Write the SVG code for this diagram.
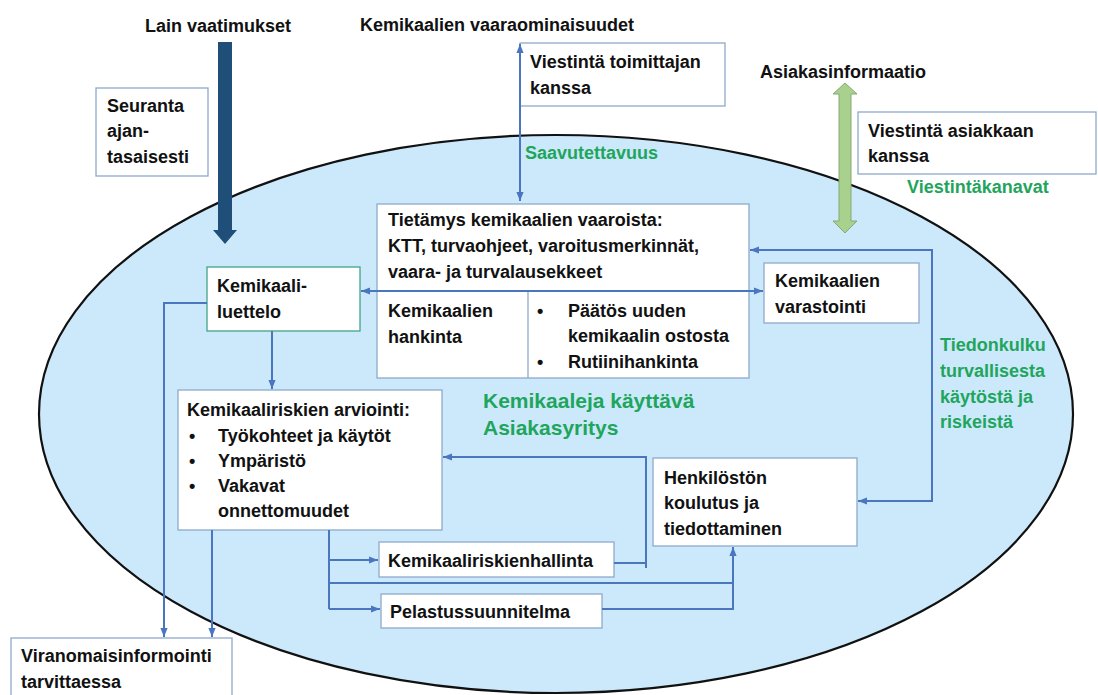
<svg xmlns="http://www.w3.org/2000/svg" width="1098" height="695" viewBox="0 0 1098 695">
  <style>
    .t { font-family: "Liberation Sans", Arial, sans-serif; font-weight: bold; font-size: 18px; fill: #111; }
    .g { font-family: "Liberation Sans", Arial, sans-serif; font-weight: bold; font-size: 18px; fill: #1fa55c; }
    .big { font-size: 21px; }
    .box { fill: #ffffff; stroke: #8eaacb; stroke-width: 1.3; }
    .boxg { fill: #ffffff; stroke: #3fa585; stroke-width: 1.3; }
    .con { fill: none; stroke: #4a76c0; stroke-width: 2; }
  </style>
  <defs>
    <marker id="ah" viewBox="0 0 10 10" refX="10" refY="5" markerWidth="9" markerHeight="9" markerUnits="userSpaceOnUse" orient="auto-start-reverse">
      <path d="M0,1 L10,5 L0,9 z" fill="#4a76c0"/>
    </marker>
  </defs>

  <rect width="1098" height="695" fill="#ffffff"/>

  <!-- company boundary -->
  <ellipse id="company" cx="556" cy="414" rx="517" ry="279" fill="#cce9fb" stroke="#111" stroke-width="2.2"/>

  <!-- headings outside the company -->
  <g id="lain-vaatimukset">
    <text class="t" x="145" y="32">Lain vaatimukset</text>
    <path d="M218,42 H232 V230 H237 L225,244 L213,230 H218 Z" fill="#1f4e79"/>
  </g>
  <g id="vaaraominaisuudet">
    <text class="t" x="360" y="31">Kemikaalien vaaraominaisuudet</text>
  </g>
  <g id="asiakasinformaatio">
    <text class="t" x="760" y="78">Asiakasinformaatio</text>
    <path d="M845,83 L857,94 H851 V221 H857 L845,233 L833,221 H839 V94 H833 Z" fill="#a9d18e" stroke="#86a874" stroke-width="1"/>
  </g>

  <g id="seuranta">
    <rect class="box" x="96" y="88" width="112" height="88"/>
    <text class="t" x="107" y="112">Seuranta</text>
    <text class="t" x="107" y="137">ajan-</text>
    <text class="t" x="107" y="163">tasaisesti</text>
  </g>

  <g id="viestinta-toimittaja">
    <rect class="box" x="520" y="43" width="205" height="63"/>
    <text class="t" x="530" y="68">Viestintä toimittajan</text>
    <text class="t" x="530" y="94">kanssa</text>
  </g>

  <g id="viestinta-asiakas">
    <rect class="box" x="858" y="112" width="238" height="62"/>
    <text class="t" x="868" y="137">Viestintä asiakkaan</text>
    <text class="t" x="868" y="162">kanssa</text>
  </g>

  <!-- green labels -->
  <text class="g" x="525" y="159">Saavutettavuus</text>
  <text class="g" x="907" y="193">Viestintäkanavat</text>
  <g id="tiedonkulku-label">
    <text class="g" x="940" y="351">Tiedonkulku</text>
    <text class="g" x="940" y="377">turvallisesta</text>
    <text class="g" x="940" y="403">käytöstä ja</text>
    <text class="g" x="940" y="428">riskeistä</text>
  </g>
  <g id="asiakasyritys-label">
    <text class="g big" x="483" y="408">Kemikaaleja käyttävä</text>
    <text class="g big" x="483" y="435">Asiakasyritys</text>
  </g>

  <!-- nodes inside the company -->
  <g id="tietamys">
    <rect class="box" x="377" y="204" width="372" height="174"/>
    <line x1="528" y1="291" x2="528" y2="378" stroke="#8eaacb" stroke-width="1.3"/>
    <text class="t" x="388" y="226">Tietämys kemikaalien vaaroista:</text>
    <text class="t" x="388" y="252">KTT, turvaohjeet, varoitusmerkinnät,</text>
    <text class="t" x="388" y="278">vaara- ja turvalausekkeet</text>
    <text class="t" x="388" y="317">Kemikaalien</text>
    <text class="t" x="388" y="343">hankinta</text>
    <text class="t" x="537" y="317">•</text>
    <text class="t" x="568" y="317">Päätös uuden</text>
    <text class="t" x="568" y="342">kemikaalin ostosta</text>
    <text class="t" x="537" y="368">•</text>
    <text class="t" x="568" y="368">Rutiinihankinta</text>
  </g>

  <g id="kemikaaliluettelo">
    <rect class="boxg" x="207" y="267" width="153" height="64"/>
    <text class="t" x="217" y="292">Kemikaali-</text>
    <text class="t" x="217" y="318">luettelo</text>
  </g>

  <g id="varastointi">
    <rect class="box" x="764" y="263" width="155" height="60"/>
    <text class="t" x="775" y="287">Kemikaalien</text>
    <text class="t" x="775" y="313">varastointi</text>
  </g>

  <g id="arviointi">
    <rect class="box" x="178" y="390" width="264" height="140"/>
    <text class="t" x="187" y="416">Kemikaaliriskien arviointi:</text>
    <text class="t" x="189" y="442">•</text>
    <text class="t" x="218" y="442">Työkohteet ja käytöt</text>
    <text class="t" x="189" y="467">•</text>
    <text class="t" x="218" y="467">Ympäristö</text>
    <text class="t" x="189" y="492">•</text>
    <text class="t" x="218" y="492">Vakavat</text>
    <text class="t" x="218" y="517">onnettomuudet</text>
  </g>

  <g id="henkilosto">
    <rect class="box" x="653" y="458" width="204" height="88"/>
    <text class="t" x="664" y="484">Henkilöstön</text>
    <text class="t" x="664" y="509">koulutus ja</text>
    <text class="t" x="664" y="535">tiedottaminen</text>
  </g>

  <g id="riskienhallinta">
    <rect class="box" x="379" y="542" width="235" height="35"/>
    <text class="t" x="388" y="567">Kemikaaliriskienhallinta</text>
  </g>

  <g id="pelastussuunnitelma">
    <rect class="box" x="381" y="594" width="221" height="34"/>
    <text class="t" x="390" y="618">Pelastussuunnitelma</text>
  </g>

  <g id="viranomaisinformointi">
    <rect class="box" x="11" y="638" width="221" height="70"/>
    <text class="t" x="21" y="662">Viranomaisinformointi</text>
    <text class="t" x="21" y="688">tarvittaessa</text>
  </g>

  <!-- connectors -->
  <g id="connectors">
    <path class="con" d="M520,44 V201" marker-start="url(#ah)" marker-end="url(#ah)"/>
    <path class="con" d="M361,291 H763" marker-start="url(#ah)" marker-end="url(#ah)"/>
    <path class="con" d="M750,250 H932 V501 H858" marker-start="url(#ah)" marker-end="url(#ah)"/>
    <path class="con" d="M207,303 H164 V637" marker-end="url(#ah)"/>
    <path class="con" d="M272,331 V389" marker-end="url(#ah)"/>
    <path class="con" d="M212,530 V637" marker-end="url(#ah)"/>
    <path class="con" d="M329,530 V609"/>
    <path class="con" d="M329,560 H378" marker-end="url(#ah)"/>
    <path class="con" d="M329,609 H380" marker-end="url(#ah)"/>
    <path class="con" d="M329,583 H733"/>
    <path class="con" d="M614,563 H646"/>
    <path class="con" d="M646,568 V457 H443" marker-end="url(#ah)"/>
    <path class="con" d="M602,609 H733 V547" marker-end="url(#ah)"/>
  </g>
</svg>
